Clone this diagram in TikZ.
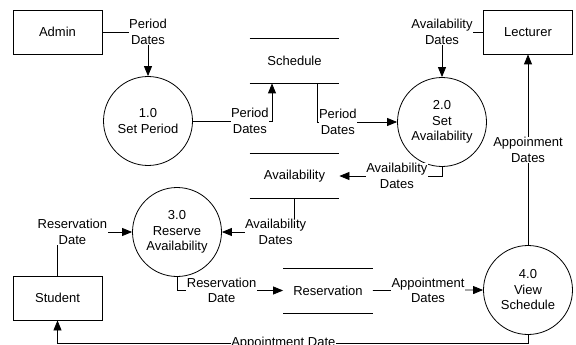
\documentclass[tikz,border=0pt]{standalone}
\usepackage{fontspec}
\setmainfont{Liberation Sans}
\usetikzlibrary{arrows.meta}
\begin{document}
\begin{tikzpicture}[x=1pt,y=-1pt,line width=.8pt,
  font=\fontsize{13}{15.5}\selectfont,
  ent/.style={draw,minimum width=89pt,minimum height=44pt,inner sep=0},
  proc/.style={draw,circle,minimum size=89pt,inner sep=0,align=center},
  store/.style={minimum width=89pt,minimum height=44pt,inner sep=0},
  flow/.style={-{Triangle[length=10pt,width=8pt]}},
  lbl/.style={fill=white,inner sep=.5pt,align=center}]
\useasboundingbox (0,0) rectangle (576,345);
\node[ent] (admin) at (57.5,32) {Admin};
\node[ent] (lect) at (528,32) {Lecturer};
\node[ent] (stud) at (57.5,298) {Student};
\node[proc] (p1) at (148,121) {1.0\\Set Period};
\node[proc] (p2) at (442,122) {2.0\\Set\\Availability};
\node[proc] (p3) at (177,232) {3.0\\Reserve\\Availability};
\node[proc] (p4) at (528,290) {4.0\\View\\Schedule};
\node[store] (sched) at (294.5,61) {Schedule};
\node[store] (avail) at (294.5,176) {Availability};
\node[store] (res) at (328,290.5) {Reservation};
\draw (sched.north west)--(sched.north east) (sched.south west)--(sched.south east);
\draw (avail.north west)--(avail.north east) (avail.south west)--(avail.south east);
\draw (res.north west)--(res.north east) (res.south west)--(res.south east);
\draw[flow] (admin.east) -| node[lbl,pos=.5]{Period\\Dates} (p1.north);
\draw[flow] (p1.east) -| node[lbl,pos=.36]{Period\\Dates} ([xshift=-22.5pt]sched.south);
\draw[flow] ([xshift=22.5pt]sched.south) |- node[lbl,pos=.63]{Period\\Dates} (p2.west);
\draw[flow] (lect.west) -| node[lbl,pos=.5]{Availability\\Dates} (p2.north);
\draw[flow] (p2.south) |- node[lbl,pos=.72]{Availability\\Dates} (avail.east);
\draw[flow] (avail.south) |- node[lbl,pos=.63]{Availability\\Dates} (p3.east);
\draw[flow] (stud.north) |- node[lbl,pos=.6]{Reservation\\Date} (p3.west);
\draw[flow] (p3.south) |- node[lbl,pos=.71]{Reservation\\Date} (res.west);
\draw[flow] (res.east) -- node[lbl]{Appointment\\Dates} (p4.west);
\draw[flow] (p4.north) -- node[lbl]{Appoinment\\Dates} (lect.south);
\draw[flow] (p4.south) -- ++(0,8) -| node[lbl,pos=.26]{Appointment Date} (stud.south);
\end{tikzpicture}
\end{document}
